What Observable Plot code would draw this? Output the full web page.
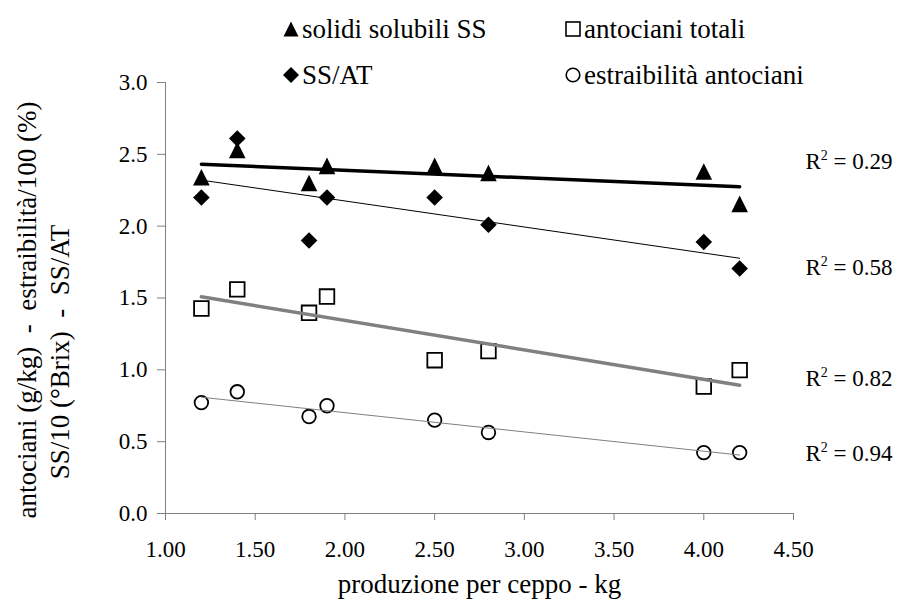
<!DOCTYPE html>
<html><head><meta charset="utf-8">
<script src="https://cdn.jsdelivr.net/npm/d3@7"></script>
<script src="https://cdn.jsdelivr.net/npm/@observablehq/plot@0.6"></script>
<style>
body{margin:0;background:#fff;}
#wrap{position:relative;width:901px;height:608px;font-family:"Liberation Serif","Times New Roman",Times,serif;}
#wrap svg text{font-family:"Liberation Serif","Times New Roman",Times,serif;}
.leg{position:absolute;height:30px;font-size:27px;line-height:30px;color:#000;white-space:nowrap;font-family:"Liberation Serif","Times New Roman",Times,serif;}
.leg svg{position:absolute;left:0;top:6px;}
.leg span{position:absolute;top:0;}
</style></head><body><div id="wrap"></div>
<script>
// ---- data ----
const produzione = [1.2, 1.4, 1.8, 1.9, 2.5, 2.8, 4.0, 4.2];
const solidiSolubili = [2.34, 2.53, 2.30, 2.42, 2.42, 2.37, 2.38, 2.155];
const ssAt = [2.20, 2.61, 1.90, 2.20, 2.20, 2.01, 1.89, 1.705];
const antocianiTotali = [1.427, 1.56, 1.397, 1.51, 1.067, 1.13, 0.884, 0.998];
const estraibilita = [0.772, 0.847, 0.675, 0.75, 0.65, 0.564, 0.424, 0.424];
const seriesNames = ["solidi solubili SS", "antociani totali", "SS/AT", "estraibilità antociani"];
const r2Values = ["0.29", "0.58", "0.82", "0.94"];
const r2LabelY = [2.45, 1.71, 0.94, 0.42];
const xTicks = [1, 1.5, 2, 2.5, 3, 3.5, 4, 4.5];
const yTicks = [0, 0.5, 1, 1.5, 2, 2.5, 3];
const yTitle = ["antociani (g/kg)  -  estraibilità/100 (%)", "SS/10 (°Brix)  -  SS/AT"];
const xTitle = "produzione per ceppo - kg";

const table = produzione.map((x, i) => ({
  x, ss: solidiSolubili[i], ssat: ssAt[i], ant: antocianiTotali[i], est: estraibilita[i]
}));
const r2Table = r2Values.map((v, i) => ({v, y: r2LabelY[i]}));

// custom symbols (r = half size)
const tri = {draw(c, size) { const r = Math.sqrt(size / Math.PI); c.moveTo(0, -r); c.lineTo(r, r); c.lineTo(-r, r); c.closePath(); }};
const dia = {draw(c, size) { const r = Math.sqrt(size / Math.PI); c.moveTo(0, -r); c.lineTo(r, 0); c.lineTo(0, r); c.lineTo(-r, 0); c.closePath(); }};
const sq = {draw(c, size) { const r = Math.sqrt(size / Math.PI); c.moveTo(-r, -r); c.lineTo(r, -r); c.lineTo(r, r); c.lineTo(-r, r); c.closePath(); }};

const serif = "'Liberation Serif', 'Times New Roman', Times, serif";
const axisGray = "#808080";
const chart = Plot.plot({
  width: 901, height: 608,
  marginTop: 82, marginBottom: 95, marginLeft: 165, marginRight: 108,
  style: {fontFamily: serif, fontSize: "23px", background: "#fff", color: "#000"},
  x: {domain: [1, 4.5]},
  y: {domain: [0, 3]},
  marks: [
    Plot.axisY({ticks: yTicks, tickFormat: d3.format(".1f"), tickSize: 8, tickPadding: 10, stroke: axisGray, fill: "#000", label: null, fontSize: 23, fontFamily: serif}),
    Plot.axisX({ticks: xTicks, tickFormat: d3.format(".2f"), tickSize: 7, tickPadding: 20, stroke: axisGray, fill: "#000", label: null, fontSize: 23, fontFamily: serif}),
    Plot.ruleY([0], {stroke: axisGray}),
    Plot.ruleX([1], {stroke: axisGray}),
    Plot.dot(table, {x: "x", y: "ss", symbol: tri, r: 8.3, fill: "#000", stroke: "none"}),
    Plot.dot(table, {x: "x", y: "ssat", symbol: dia, r: 8.3, fill: "#000", stroke: "none"}),
    Plot.dot(table, {x: "x", y: "ant", symbol: sq, r: 7.3, fill: "none", stroke: "#000", strokeWidth: 1.8}),
    Plot.dot(table, {x: "x", y: "est", symbol: "circle", r: 6.8, fill: "none", stroke: "#000", strokeWidth: 1.8}),
    Plot.linearRegressionY(table, {x: "x", y: "ss", stroke: "#000", strokeWidth: 3.5, ci: 0}),
    Plot.linearRegressionY(table, {x: "x", y: "ssat", stroke: "#000", strokeWidth: 1, ci: 0}),
    Plot.linearRegressionY(table, {x: "x", y: "ant", stroke: "#808080", strokeWidth: 3.5, ci: 0}),
    Plot.linearRegressionY(table, {x: "x", y: "est", stroke: "#808080", strokeWidth: 1, ci: 0}),
    Plot.text(r2Table, {x: 4.5, y: "y", text: d => "R2 = " + d.v, dx: 12, textAnchor: "start", fontSize: 23, fontFamily: serif, fill: "#000"}),
    Plot.text([yTitle[0]], {frameAnchor: "left", textAnchor: "middle", dx: -138, dy: 12, rotate: -90, fontSize: 27, fontFamily: serif, fill: "#000"}),
    Plot.text([yTitle[1]], {frameAnchor: "left", textAnchor: "middle", dx: -105, dy: 54, rotate: -90, fontSize: 27, fontFamily: serif, fill: "#000"}),
    Plot.text([xTitle], {frameAnchor: "bottom", dy: 79, fontSize: 27, fontFamily: serif, fill: "#000"})
  ]
});

// superscript for R2
d3.select(chart).selectAll("text").each(function() {
  const t = d3.select(this);
  if (this.querySelector("tspan")) return;
  const full = t.text();
  if (!/^R2 = /.test(full)) return;
  const rest = full.replace(/^R2/, "");
  t.text(null);
  t.append("tspan").text("R");
  t.append("tspan").attr("dy", "-9").attr("font-size", "14px").text("2");
  t.append("tspan").attr("dy", "9").text(rest);
});

const wrap = document.getElementById("wrap");
wrap.appendChild(chart);

// legend overlay
const legendItems = [
  {name: seriesNames[0], kind: "tri", left: 282, top: 14},
  {name: seriesNames[1], kind: "sq", left: 564, top: 14},
  {name: seriesNames[2], kind: "dia", left: 282, top: 60},
  {name: seriesNames[3], kind: "circ", left: 564, top: 60}
];
const symSvg = {
  tri: '<path d="M9,1.5L16.5,16.5L1.5,16.5Z" fill="#000"/>',
  dia: '<path d="M9,1L17,9L9,17L1,9Z" fill="#000"/>',
  sq: '<rect x="2" y="2" width="14" height="14" fill="none" stroke="#000" stroke-width="1.6"/>',
  circ: '<circle cx="9" cy="9" r="6.8" fill="none" stroke="#000" stroke-width="1.6"/>'
};
for (const it of legendItems) {
  const div = document.createElement("div");
  div.className = "leg";
  div.style.left = it.left + "px";
  div.style.top = it.top + "px";
  div.innerHTML = '<svg width="18" height="18" viewBox="0 0 18 18">' + symSvg[it.kind] + '</svg><span style="left:20px">' + it.name + '</span>';
  wrap.appendChild(div);
}
</script></body></html>
